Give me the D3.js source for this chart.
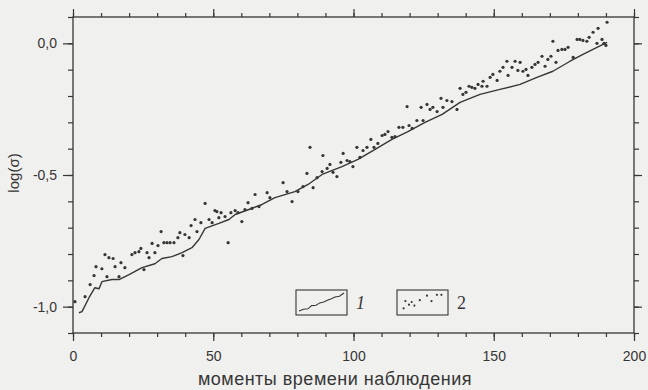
<!DOCTYPE html>
<html>
<head>
<meta charset="utf-8">
<script src="https://cdn.jsdelivr.net/npm/d3@7/dist/d3.min.js"></script>
<style>
  body { margin: 0; background: #f0f0ee; }
  svg { display: block; }
</style>
</head>
<body>
<svg id="chart"></svg>
<script>
// series 1: line (moment, log sigma)
const lineT = [2.1, 3.2, 5.7, 7.8, 9.3, 10.3, 13.9, 16.4, 20, 24.6, 29.2, 31.7, 35.3, 38.9, 42.4, 44.9, 47.1, 52, 55.6, 57.8, 62.7, 67.4, 72, 79.1, 83.8, 88.8, 95.9, 101.6, 107.7, 113.7, 119.4, 125.5, 131.6, 138, 145.1, 152.2, 159.4, 165.4, 171.1, 177.2, 181.8, 186.8, 190.4];
const lineV = [-1.023, -1.019, -0.966, -0.928, -0.932, -0.905, -0.897, -0.897, -0.878, -0.852, -0.837, -0.817, -0.81, -0.795, -0.776, -0.745, -0.703, -0.684, -0.669, -0.65, -0.631, -0.612, -0.586, -0.563, -0.536, -0.498, -0.468, -0.441, -0.403, -0.365, -0.335, -0.3, -0.27, -0.224, -0.194, -0.175, -0.156, -0.129, -0.106, -0.068, -0.042, -0.015, 0.004];

// series 2: points (moment, log sigma)
const dotT = [0.7, 4.3, 6.1, 7.5, 8.2, 10.3, 11.4, 12.1, 12.8, 14.3, 15.0, 16.4, 17.1, 18.5, 21.0, 22.1, 23.5, 24.2, 25.3, 26.4, 27.1, 28.2, 29.2, 30.3, 31.4, 32.4, 33.5, 34.6, 36.0, 37.4, 38.1, 39.2, 39.9, 41.4, 42.1, 43.5, 44.2, 45.6, 47.1, 48.5, 49.6, 50.6, 51.3, 52.0, 52.8, 54.2, 55.3, 56.3, 57.8, 58.8, 60.2, 61.3, 62.4, 63.8, 64.9, 66.3,
  69.2, 70.2, 74.9, 76.3, 78.1, 80.2, 82.0, 83.4, 84.5, 85.6, 87.0, 88.8, 89.1, 90.6, 91.6, 92.7, 94.1, 95.5, 96.3, 97.7, 98.7, 99.8, 101.2, 102.3, 103.4, 104.8, 106.2, 107.3, 108.7, 110.2, 111.2, 112.3, 113.7, 114.8, 116.2, 117.6, 119.1, 119.8, 120.9, 122.6, 124.1, 124.8, 126.2, 127.3, 128.3, 129.8, 131.2, 131.9, 133.3,
  135.1, 136.9, 138.0, 139.0, 140.1, 141.2, 142.2, 143.3, 144.4, 145.8, 146.2, 147.6, 148.7, 149.7, 151.2, 152.2, 153.3, 154.7, 155.1, 156.5, 157.6, 158.6, 159.4, 160.4, 161.5, 162.2, 163.6, 164.7, 165.8, 167.2, 168.3, 169.3, 170.4, 171.1, 172.2, 172.9, 174.3, 175.4, 176.5, 178.3, 179.7, 180.7, 181.8, 183.2, 184.0, 185.4, 186.8, 187.2, 188.6, 189.3, 190.0, 190.4];
const dotV = [-0.981, -0.962, -0.916, -0.882, -0.848, -0.856, -0.802, -0.886, -0.814, -0.817, -0.848, -0.886, -0.833, -0.852, -0.802, -0.795, -0.791, -0.779, -0.859, -0.795, -0.814, -0.76, -0.795, -0.768, -0.715, -0.757, -0.757, -0.757, -0.757, -0.738, -0.719, -0.806, -0.726, -0.738, -0.692, -0.669, -0.715, -0.681, -0.608, -0.669, -0.681, -0.635, -0.639, -0.662, -0.643, -0.658, -0.757, -0.643, -0.635, -0.643, -0.677, -0.631, -0.605, -0.627, -0.574, -0.62,
  -0.567, -0.586, -0.529, -0.563, -0.601, -0.563, -0.544, -0.494, -0.395, -0.548, -0.51, -0.487, -0.426, -0.475, -0.46, -0.49, -0.506, -0.452, -0.418, -0.445, -0.449, -0.468, -0.395, -0.433, -0.407, -0.395, -0.365, -0.395, -0.38, -0.35, -0.346, -0.335, -0.357, -0.354, -0.319, -0.319, -0.24, -0.312, -0.323, -0.293, -0.243, -0.293, -0.232, -0.251, -0.243, -0.259, -0.209, -0.243, -0.217,
  -0.221, -0.251, -0.171, -0.194, -0.186, -0.163, -0.167, -0.171, -0.156, -0.163, -0.144, -0.163, -0.129, -0.118, -0.141, -0.106, -0.091, -0.068, -0.122, -0.091, -0.068, -0.103, -0.072, -0.106, -0.099, -0.122, -0.091, -0.08, -0.072, -0.049, -0.087, -0.061, -0.049, 0.008, -0.072, -0.027, -0.023, -0.023, -0.015, -0.053, 0.015, 0.015, 0.011, 0.008, 0.023, 0.042, 0.0, 0.057, 0.015, 0.0, -0.008, 0.08];

// legend sample symbols (box-relative units 0..1)
const legLineX = [0, 0.1, 0.2, 0.28, 0.38, 0.46, 0.55, 0.63, 0.72, 0.8, 0.9, 1];
const legLineY = [0, 0.1, 0.12, 0.3, 0.32, 0.45, 0.5, 0.6, 0.68, 0.78, 0.82, 1];
const legDotX = [0.08, 0.12, 0.2, 0.26, 0.32, 0.44, 0.6, 0.7, 0.82, 0.92];
const legDotY = [0.15, 0.55, 0.35, 0.5, 0.3, 0.6, 0.85, 0.55, 0.9, 0.9];

const xMajor = [0, 50, 100, 150, 200];
const yMajor = [-1.0, -0.5, 0.0];
const xTitle = "моменты времени наблюдения";
const yTitle = "log(σ)";
const legendNames = ["1", "2"];

const W = 648, H = 390;
const ink = "#363636";

const svg = d3.select("#chart").attr("width", W).attr("height", H);

const x = d3.scaleLinear().domain([0, 200]).range([73, 634]);
const y = d3.scaleLinear().domain([-1.1, 0.1]).range([333, 17]);

const fmt = d => d3.format(".1f")(d).replace(".", ",").replace("\u2212", "-");

function styleAxis(g) {
  g.select(".domain").remove();
  g.selectAll(".tick line").attr("stroke", ink).attr("stroke-width", 1.2);
  g.selectAll(".tick text").attr("fill", ink)
    .style("font-family", "'Liberation Sans', Arial, sans-serif")
    .style("font-size", "14px");
}

// minor ticks
const xMinor = d3.range(0, 201, 10);
const yMinor = d3.range(-11, 2).map(d => d / 10);
svg.append("g").attr("transform", `translate(0,${y.range()[0]})`)
  .call(d3.axisBottom(x).tickValues(xMinor).tickSize(4).tickFormat("")).call(styleAxis);
svg.append("g").attr("transform", `translate(0,${y.range()[1]})`)
  .call(d3.axisTop(x).tickValues(xMinor).tickSize(4).tickFormat("")).call(styleAxis);
svg.append("g").attr("transform", `translate(${x.range()[0]},0)`)
  .call(d3.axisLeft(y).tickValues(yMinor).tickSize(5).tickFormat("")).call(styleAxis);
svg.append("g").attr("transform", `translate(${x.range()[1]},0)`)
  .call(d3.axisRight(y).tickValues(yMinor).tickSize(5).tickFormat("")).call(styleAxis);

// major ticks
svg.append("g").attr("transform", `translate(0,${y.range()[0]})`)
  .call(d3.axisBottom(x).tickValues(xMajor).tickSize(8).tickPadding(10).tickFormat(d3.format("d")))
  .call(styleAxis);
svg.append("g").attr("transform", `translate(0,${y.range()[1]})`)
  .call(d3.axisTop(x).tickValues(xMajor).tickSize(8).tickFormat("")).call(styleAxis);
svg.append("g").attr("transform", `translate(${x.range()[0]},0)`)
  .call(d3.axisLeft(y).tickValues(yMajor).tickSize(10).tickPadding(6).tickFormat(fmt))
  .call(styleAxis);
svg.append("g").attr("transform", `translate(${x.range()[1]},0)`)
  .call(d3.axisRight(y).tickValues(yMajor).tickSize(8).tickFormat("")).call(styleAxis);

// frame
svg.append("rect")
  .attr("x", x.range()[0]).attr("y", y.range()[1])
  .attr("width", x.range()[1] - x.range()[0]).attr("height", y.range()[0] - y.range()[1])
  .attr("fill", "none").attr("stroke", ink).attr("stroke-width", 1.3);

// series 1
const lineData = lineT.map((t, i) => [t, lineV[i]]);
svg.append("path")
  .datum(lineData)
  .attr("fill", "none").attr("stroke", ink).attr("stroke-width", 1.4)
  .attr("stroke-linejoin", "round")
  .attr("d", d3.line().x(d => x(d[0])).y(d => y(d[1])));

// series 2
const dotData = dotT.map((t, i) => [t, dotV[i]]);
svg.append("g").selectAll("circle")
  .data(dotData)
  .join("circle")
  .attr("cx", d => x(d[0])).attr("cy", d => y(d[1]))
  .attr("r", 1.6).attr("fill", ink);

// axis titles
svg.append("text")
  .attr("x", 335).attr("y", 385)
  .attr("text-anchor", "middle")
  .attr("fill", ink)
  .style("font-family", "'Liberation Sans', Arial, sans-serif")
  .style("font-size", "18px")
  .style("letter-spacing", "0.5px")
  .text(xTitle);
svg.append("text")
  .attr("transform", "translate(19,173) rotate(-90)")
  .attr("text-anchor", "middle")
  .attr("fill", ink)
  .style("font-family", "'Liberation Sans', Arial, sans-serif")
  .style("font-size", "15px")
  .text(yTitle);

// legend
const boxes = [{ x0: 296, name: legendNames[0], italic: true }, { x0: 397, name: legendNames[1], italic: false }];
const bw = 51, bh = 25, by = 290;
boxes.forEach((b, i) => {
  const g = svg.append("g");
  g.append("rect").attr("x", b.x0).attr("y", by).attr("width", bw).attr("height", bh)
    .attr("fill", "none").attr("stroke", ink).attr("stroke-width", 1.1);
  const lx = d3.scaleLinear().domain([0, 1]).range([b.x0 + 3, b.x0 + bw - 3]);
  const ly = d3.scaleLinear().domain([0, 1]).range([by + bh - 4, by + 3]);
  if (i === 0) {
    g.append("path").datum(legLineX.map((v, k) => [v, legLineY[k]]))
      .attr("fill", "none").attr("stroke", ink).attr("stroke-width", 1.1)
      .attr("d", d3.line().x(d => lx(d[0])).y(d => ly(d[1])));
  } else {
    g.selectAll("circle").data(legDotX.map((v, k) => [v, legDotY[k]]))
      .join("circle")
      .attr("cx", d => lx(d[0])).attr("cy", d => ly(d[1]))
      .attr("r", 1.1).attr("fill", ink);
  }
  g.append("text")
    .attr("x", b.x0 + bw + 9).attr("y", by + 19)
    .attr("fill", ink)
    .style("font-family", "'Liberation Serif', 'Times New Roman', serif")
    .style("font-style", b.italic ? "italic" : "normal")
    .style("font-size", "18px")
    .text(b.name);
});
</script>
</body>
</html>
